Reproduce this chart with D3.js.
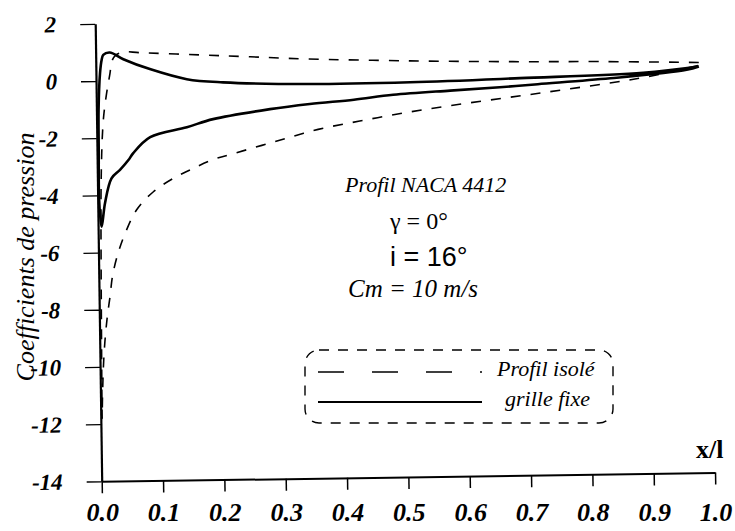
<!DOCTYPE html>
<html>
<head>
<meta charset="utf-8">
<script src="https://cdn.jsdelivr.net/npm/d3@7"></script>
<style>
  body { margin: 0; background: #fff; }
  svg { display: block; }
  .serif { font-family: "Liberation Serif", Tinos, "Times New Roman", Times, "DejaVu Serif", serif; }
  .sans { font-family: "Liberation Sans", Arimo, Arial, Helvetica, sans-serif; }
</style>
</head>
<body>
<svg id="chart" width="735" height="531"></svg>
<script>
// Tick values and labels
const xTicks = [0, 0.1, 0.2, 0.3, 0.4, 0.5, 0.6, 0.7, 0.8, 0.9, 1.0];
const xTickLabels = ["0.0", "0.1", "0.2", "0.3", "0.4", "0.5", "0.6", "0.7", "0.8", "0.9", "1.0"];
const yTicks = [2, 0, -2, -4, -6, -8, -10, -12, -14];
const yTickLabels = ["2", "0", "-2", "-4", "-6", "-8", "-10", "-12", "-14"];

// Grille fixe (cascade): one continuous contour, trailing edge -> stagnation -> nose -> trailing edge
const grilleX  = [0.983, 0.892, 0.691, 0.512, 0.343, 0.207, 0.148, 0.088, 0.045, 0.023, 0.0124, 0.0097, 0.0067, 0.0035, 0.0028, 0.0022, 0.0040, 0.0059, 0.0118, 0.023, 0.037, 0.051, 0.059, 0.087, 0.147, 0.19, 0.283, 0.348, 0.42, 0.484, 0.577, 0.658, 0.72, 0.838, 0.963, 0.983];
const grilleCp = [0.21, 0.02, -0.11, -0.20, -0.21, -0.11, 0.02, 0.39, 0.75, 0.99, 0.91, 0.74, 0.27, -1.0, -2.4, -4.1, -4.8, -5.1, -4.28, -3.41, -3.12, -2.78, -2.54, -1.99, -1.66, -1.39, -1.07, -0.91, -0.78, -0.63, -0.51, -0.42, -0.33, -0.16, 0.10, 0.21];

// Profil isolé: pressure side from trailing edge, around the nose, suction side back to trailing edge
const isoleX  = [0.983, 0.822, 0.68, 0.512, 0.341, 0.252, 0.17, 0.072, 0.045, 0.032, 0.026, 0.023, 0.017, 0.0122, 0.0097, 0.0076, 0.0055, 0.0040, 0.0030, 0.0022, 0.0030, 0.0045, 0.0060, 0.0087, 0.0129, 0.0178, 0.0227, 0.032, 0.044, 0.063, 0.091, 0.124, 0.151, 0.187, 0.225, 0.295, 0.361, 0.429, 0.498, 0.565, 0.634, 0.702, 0.768, 0.836, 0.90, 0.983];
const isoleCp = [0.35, 0.43, 0.47, 0.55, 0.67, 0.77, 0.86, 0.97, 1.0, 0.88, 0.67, 0.27, -0.43, -1.13, -1.71, -2.53, -4.0, -6.5, -9.0, -11.8, -11.2, -10.4, -9.8, -9.06, -8.25, -7.55, -6.79, -6.03, -5.34, -4.53, -3.9, -3.44, -3.16, -2.82, -2.59, -2.18, -1.80, -1.53, -1.28, -1.07, -0.88, -0.70, -0.52, -0.33, -0.12, 0.25];

// Text blocks
const annotations = [
  { text: "Profil NACA 4412", x: 345, y: 192, size: 22, cls: "serif", style: "italic", weight: "normal" },
  { text: "\u03b3 = 0\u00b0", x: 390, y: 229, size: 24, cls: "serif", style: "normal", weight: "normal" },
  { text: "i = 16\u00b0", x: 390, y: 266, size: 27, cls: "sans", style: "normal", weight: "normal" },
  { text: "Cm = 10 m/s", x: 348, y: 297, size: 25, cls: "serif", style: "italic", weight: "normal" }
];
const legendLabels = ["Profil isol\u00e9", "grille fixe"];

const svg = d3.select("#chart");
const W = 735, H = 531;
svg.append("rect").attr("width", W).attr("height", H).attr("fill", "#fff");

// Plot frame sits slightly tilted on the page
const origin = [101.7, 481.3];
const tilt = -0.813;
const plotW = 613.4, plotH = 457.5;
const rad = tilt * Math.PI / 180;

const x = d3.scaleLinear().domain([0, 1]).range([0, plotW]);
const y = d3.scaleLinear().domain([-14, 2]).range([0, -plotH]);

const plot = svg.append("g")
  .attr("transform", `translate(${origin[0]},${origin[1]}) rotate(${tilt})`);

// Y axis
const yAxis = plot.append("g")
  .call(d3.axisLeft(y).tickValues(yTicks).tickSize(15).tickSizeOuter(0).tickFormat(""));
yAxis.select(".domain").attr("stroke", "#000").attr("stroke-width", 2.2);
yAxis.selectAll(".tick line").attr("stroke", "#000").attr("stroke-width", 1.3);

plot.append("g").selectAll("text")
  .data(yTicks)
  .join("text")
  .attr("class", "serif")
  .attr("x", -39)
  .attr("y", d => y(d))
  .attr("dy", "0.34em")
  .attr("text-anchor", "end")
  .style("font-style", "italic")
  .style("font-weight", "bold")
  .style("font-size", "23px")
  .text((d, i) => yTickLabels[i]);

// X axis
const xAxis = plot.append("g")
  .call(d3.axisBottom(x).tickValues(xTicks).tickSize(12).tickSizeOuter(0).tickFormat(""));
xAxis.select(".domain").attr("stroke", "#000").attr("stroke-width", 2);
xAxis.selectAll(".tick line").attr("stroke", "#000").attr("stroke-width", 1.5);

// X tick labels stay level on the page
svg.append("g").selectAll("text")
  .data(xTicks)
  .join("text")
  .attr("class", "serif")
  .attr("x", d => origin[0] + x(d) * Math.cos(rad) + 1)
  .attr("y", 521)
  .attr("text-anchor", "middle")
  .style("font-style", "italic")
  .style("font-weight", "bold")
  .style("font-size", "26px")
  .text((d, i) => xTickLabels[i]);

// Curves
const line = d3.line()
  .x(d => x(d[0]))
  .y(d => y(d[1]))
  .curve(d3.curveCatmullRom.alpha(0.5));

plot.append("path")
  .datum(isoleX.map((v, i) => [v, isoleCp[i]]))
  .attr("d", line)
  .attr("fill", "none")
  .attr("stroke", "#000")
  .attr("stroke-width", 1.6)
  .attr("stroke-dasharray", "10,10");

plot.append("path")
  .datum(grilleX.map((v, i) => [v, grilleCp[i]]))
  .attr("d", line)
  .attr("fill", "none")
  .attr("stroke", "#000")
  .attr("stroke-width", 2.6)
  .attr("stroke-linejoin", "round");

// Axis titles
svg.append("text")
  .attr("class", "serif")
  .attr("transform", "translate(34,257) rotate(-90)")
  .attr("text-anchor", "middle")
  .style("font-style", "italic")
  .style("font-size", "26px")
  .text("Coefficients de pression");

svg.append("text")
  .attr("class", "serif")
  .attr("x", 696)
  .attr("y", 458)
  .style("font-weight", "bold")
  .style("font-size", "26px")
  .text("x/l");

// Annotations
svg.append("g").selectAll("text")
  .data(annotations)
  .join("text")
  .attr("class", d => d.cls)
  .attr("x", d => d.x)
  .attr("y", d => d.y)
  .style("font-style", d => d.style)
  .style("font-weight", d => d.weight)
  .style("font-size", d => d.size + "px")
  .text(d => d.text);

// Legend
const legend = svg.append("g");
legend.append("rect")
  .attr("x", 305).attr("y", 350).attr("width", 308).attr("height", 73)
  .attr("rx", 14)
  .attr("fill", "none")
  .attr("stroke", "#000")
  .attr("stroke-width", 1.4)
  .attr("stroke-dasharray", "10,9");

const legendStyles = [
  { dash: "26,28", width: 1.5, y: 372 },
  { dash: null, width: 1.8, y: 402 }
];
legendStyles.forEach((s, i) => {
  legend.append("line")
    .attr("x1", 318).attr("x2", 482)
    .attr("y1", s.y).attr("y2", s.y)
    .attr("stroke", "#000")
    .attr("stroke-width", s.width)
    .attr("stroke-dasharray", s.dash);
  legend.append("text")
    .attr("class", "serif")
    .attr("x", i === 0 ? 497 : 505)
    .attr("y", s.y + 4)
    .style("font-style", "italic")
    .style("font-size", "22px")
    .text(legendLabels[i]);
});
</script>
</body>
</html>
